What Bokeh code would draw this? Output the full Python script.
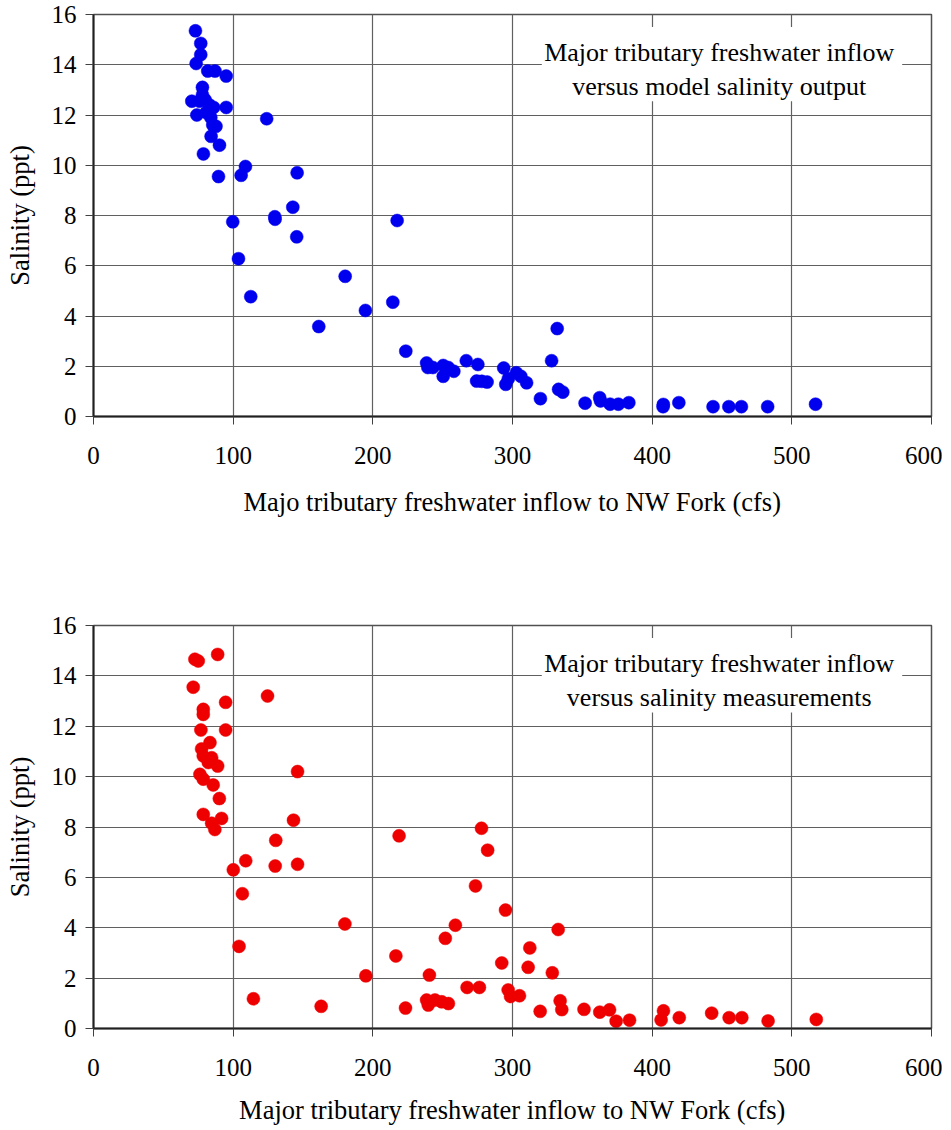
from bokeh.plotting import figure
from bokeh.layouts import column
from bokeh.models import Label, BoxAnnotation, FixedTicker, Range1d
from bokeh.embed import file_html
from bokeh.resources import INLINE

# ---- data: model salinity output (top) ----
model_inflow = [73, 76.8, 76.8, 73.5, 81.8, 87, 95, 78, 78, 70.4, 75.9, 80, 83, 86, 95,
                74, 80.6, 84, 85.4, 87.7, 84.2, 90.2, 78.7, 89.5, 105.7, 108.8, 145.8,
                124, 99.7, 129.8, 130, 142.7, 145.5, 103.8, 112.6, 217.4, 180.2, 194.7,
                214.3, 161.3, 223.6, 238.5, 239.4, 243, 250.4, 250.4, 254, 258, 266.9,
                275.2, 274.3, 278, 281.8, 293.7, 295.2, 297, 302.7, 306, 310.1, 320,
                328, 332, 333, 336, 352, 362.4, 363, 369.9, 375.8, 383.3, 407.8, 408,
                419.1, 443.6, 454.9, 463.9, 482.7, 517]
model_salinity = [15.35, 14.85, 14.4, 14.05, 13.75, 13.75, 13.55, 13.1, 12.8, 12.55, 12.55,
                  12.6, 12.4, 12.3, 12.3, 12.0, 12.1, 11.9, 11.6, 11.55, 11.15, 10.8, 10.45,
                  9.55, 9.6, 9.95, 9.7, 11.85, 7.75, 7.95, 7.85, 8.33, 7.15, 6.28, 4.77,
                  7.8, 5.58, 4.22, 4.55, 3.58, 2.6, 2.13, 1.95, 1.95, 2.03, 1.6, 1.95, 1.8,
                  2.22, 2.07, 1.41, 1.4, 1.37, 1.93, 1.28, 1.5, 1.74, 1.6, 1.34, 0.71,
                  2.22, 3.5, 1.08, 0.97, 0.53, 0.75, 0.62, 0.49, 0.49, 0.55, 0.39, 0.48,
                  0.55, 0.39, 0.39, 0.39, 0.39, 0.49]

# ---- data: salinity measurements (bottom) ----
meas_inflow = [72.6, 75, 88.9, 71.4, 78.6, 78.6, 94.6, 76.9, 94.6, 83.4, 77.4, 78.6, 84.6,
               82.2, 88.9, 76.2, 78.6, 85.7, 90.1, 78.6, 91.7, 84.6, 86.9, 124.6, 146.1,
               143.2, 130.5, 130.1, 146.1, 109, 100.1, 106.6, 104.2, 114.5, 163, 180, 195,
               218.8, 216.5, 223.4, 240.5, 238.5, 239.7, 244.5, 249.3, 254.1, 251.9, 259.1,
               273.5, 277.8, 282.2, 267.5, 276.3, 292.3, 295, 296.9, 298.6, 305, 312.4,
               311.2, 319.8, 328.5, 332.7, 334.1, 335.3, 351.2, 362.5, 369.5, 374.2, 383.8,
               408.1, 406.4, 419.4, 442.6, 455.1, 464.2, 483, 517.5]
meas_salinity = [14.66, 14.59, 14.85, 13.55, 12.67, 12.47, 12.95, 11.85, 11.85, 11.35, 11.1,
                 10.82, 10.75, 10.56, 10.42, 10.09, 9.9, 9.67, 9.13, 8.5, 8.34, 8.15, 7.9,
                 13.2, 10.2, 8.27, 7.47, 6.45, 6.52, 6.66, 6.3, 5.35, 3.26, 1.18, 0.88, 4.15,
                 2.09, 7.65, 2.88, 0.81, 2.12, 1.13, 0.93, 1.13, 1.06, 0.99, 3.58, 4.1, 5.66,
                 7.95, 7.08, 1.63, 1.63, 2.6, 4.7, 1.53, 1.27, 1.3, 3.2, 2.43, 0.68, 2.21,
                 3.93, 1.1, 0.75, 0.76, 0.65, 0.74, 0.29, 0.33, 0.7, 0.34, 0.43, 0.61, 0.43,
                 0.43, 0.3, 0.36]

x_ticks = [0, 100, 200, 300, 400, 500, 600]
y_ticks = [0, 2, 4, 6, 8, 10, 12, 14, 16]

FONT = "Liberation Serif"


def make_plot(xs, ys, color, xlabel, note1, note2, height, mtop, mbottom, mleft, mright,
              xlabel_standoff):
    p = figure(width=942, height=height, output_backend="svg", toolbar_location=None,
               x_range=Range1d(0, 600), y_range=Range1d(0, 16),
               min_border_top=mtop, min_border_bottom=mbottom,
               min_border_left=mleft, min_border_right=mright)
    p.background_fill_color = "white"
    p.border_fill_color = "white"
    p.outline_line_color = "#505050"
    p.outline_line_width = 1.5

    for ax in (p.xaxis[0], p.yaxis[0]):
        ax.axis_line_color = "#202020"
        ax.axis_line_width = 2
        ax.major_tick_line_color = "#404040"
        ax.major_tick_in = 0
        ax.major_tick_out = 8
        ax.minor_tick_line_color = None
        ax.major_label_text_font = FONT
        ax.major_label_text_font_size = "25px"
        ax.major_label_text_color = "black"
        ax.axis_label_text_font = FONT
        ax.axis_label_text_font_size = "26.5px"
        ax.axis_label_text_font_style = "normal"
        ax.axis_label_text_color = "black"

    p.xaxis[0].ticker = FixedTicker(ticks=x_ticks)
    p.yaxis[0].ticker = FixedTicker(ticks=y_ticks)
    p.xaxis[0].major_label_standoff = 22
    p.yaxis[0].major_label_standoff = 9
    p.xaxis[0].axis_label = xlabel
    p.yaxis[0].axis_label = "Salinity (ppt)"
    p.xaxis[0].axis_label_standoff = xlabel_standoff
    p.yaxis[0].axis_label_standoff = 14

    p.xgrid.ticker = FixedTicker(ticks=x_ticks)
    p.ygrid.ticker = FixedTicker(ticks=y_ticks)
    for g in (p.xgrid[0], p.ygrid[0]):
        g.grid_line_color = "#606060"
        g.grid_line_width = 1.2

    p.scatter(xs, ys, marker="circle", size=13, fill_color=color, line_color=color,
              line_width=0.5)

    box = BoxAnnotation(left=321, right=579, bottom=12.55, top=15.5,
                        fill_color="white", fill_alpha=1.0, line_alpha=0)
    p.add_layout(box)
    for txt, yy in ((note1, 14.5), (note2, 13.15)):
        p.add_layout(Label(x=448, y=yy, text=txt, text_align="center",
                           text_baseline="middle", text_font=FONT,
                           text_font_size="26px", text_color="black"))
    return p


p1 = make_plot(model_inflow, model_salinity, "#0000ee",
               "Majo tributary freshwater inflow to NW Fork (cfs)",
               "Major tributary freshwater inflow", "versus model salinity output",
               height=600, mtop=14, mbottom=184, mleft=93, mright=11, xlabel_standoff=20)
p2 = make_plot(meas_inflow, meas_salinity, "#ee0000",
               "Major tributary freshwater inflow to NW Fork (cfs)",
               "Major tributary freshwater inflow", "versus salinity measurements",
               height=527, mtop=25, mbottom=99, mleft=91, mright=11, xlabel_standoff=16)

layout = column(p1, p2, spacing=0)
open("out.html", "w").write(file_html(layout, INLINE))
